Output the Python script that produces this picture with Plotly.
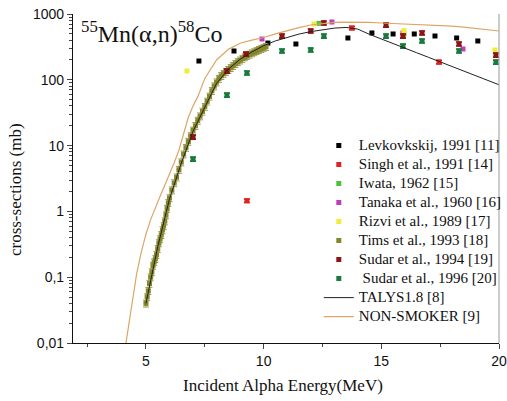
import plotly.graph_objects as go

# ---------------- data ----------------
lev_e = [7.25, 8.74, 10.18, 11.37, 13.58, 14.6, 15.5, 16.4, 17.28, 18.2, 19.1]
lev_s = [193, 274, 362, 350, 432, 515, 497, 497, 463, 432, 389]

singh_e = [9.29, 13.75, 17.45]
singh_s = [1.45, 612, 186]

iwata_e = [12.35, 15.96]
iwata_s = [720, 500]

tanaka_e = [9.93, 12.9, 15.92, 18.47]
tanaka_s = [417, 756, 515, 294]

rizvi_e = [6.74, 12.14, 15.96, 19.83]
rizvi_s = [136, 705, 560, 284]

tims_e = [5.00, 5.05, 5.10, 5.15, 5.20, 5.25, 5.30, 5.35, 5.40, 5.45, 5.50, 5.55,
          5.60, 5.65, 5.70, 5.75, 5.80, 5.85, 5.90, 5.95, 6.00, 6.10, 6.20, 6.30,
          6.40, 6.50, 6.60, 6.70, 6.80, 6.90, 7.00, 7.10, 7.20, 7.30, 7.40, 7.50,
          7.60, 7.70, 7.80, 7.90, 8.00, 8.10, 8.20, 8.30, 8.40, 8.50, 8.60, 8.70,
          8.80, 8.90, 9.00, 9.10, 9.20, 9.30, 9.40, 9.50, 9.60, 9.70, 9.80, 9.90,
          10.00, 10.10]
tims_s = [0.040, 0.050, 0.062, 0.080, 0.10, 0.12, 0.15, 0.17, 0.19, 0.22, 0.27, 0.33,
          0.38, 0.44, 0.52, 0.60, 0.71, 0.88, 1.1, 1.35, 1.6, 2.1, 2.7, 3.3,
          4.3, 5.6, 7.4, 9.3, 11.5, 14, 17, 20, 24, 28, 33, 39,
          47, 56, 68, 80, 92, 104, 115, 124, 133, 142, 152, 163,
          175, 187, 198, 210, 222, 232, 243, 254, 264, 275, 286, 297,
          308, 318]

sud94_e = [7.0, 8.44, 9.25, 10.78, 12.0, 12.56, 15.2, 15.92, 16.73, 18.3, 19.87]
sud94_s = [13.5, 136, 246, 463, 552, 730, 680, 463, 515, 350, 238]

sud96_e = [7.0, 8.44, 9.29, 10.78, 12.0, 12.56, 15.2, 15.92, 16.73, 18.3, 19.87]
sud96_s = [6.25, 58.7, 127, 274, 284, 463, 463, 326, 389, 274, 186]

talys_e = [5.0, 5.5, 6.0, 6.5, 7.0, 7.5, 8.0, 8.5, 9.0, 9.5, 10.0, 10.5, 11.0,
           11.5, 12.0, 12.5, 13.0, 13.5, 14.0, 14.5, 15.0, 15.5, 16.0, 16.5, 17.0,
           17.5, 18.0, 18.5, 19.0, 19.5, 20.0]
talys_s = [0.04, 0.29, 1.55, 5.4, 16.5, 38, 88, 145, 205, 265, 330, 390, 445,
           495, 540, 580, 610, 625, 590, 490, 415, 355, 302, 258, 220,
           188, 160, 137, 116, 99, 84]

ns_e = [4.0, 4.2, 4.4, 4.6, 4.8, 5.0, 5.2, 5.4, 5.6, 5.8, 6.0, 6.2, 6.4, 6.6, 6.8,
        7.0, 7.2, 7.5, 8.0, 8.5, 9.0, 9.5, 10.0, 10.5, 11.0, 11.5, 12.0, 12.5,
        13.0, 13.5, 14.0, 14.5, 15.0, 15.5, 16.0, 16.5, 17.0, 17.5, 18.0, 18.5,
        19.0, 19.5, 20.0]
ns_s = [0.0045, 0.0135, 0.04, 0.11, 0.24, 0.45, 0.75, 1.15, 1.7, 2.5, 3.6, 5.5,
        8.5, 15, 27, 40, 55, 105, 200, 290, 360, 400, 440, 500, 560, 620, 680,
        720, 745, 755, 755, 745, 730, 720, 710, 700, 690, 670, 655, 630, 605,
        580, 552]

y_tickvals = [0.01, 0.1, 1, 10, 100, 1000]
y_ticktext = ["0,01", "0,1", "1", "10", "100", "1000"]
x_tickvals = [5, 10, 15, 20]


def lg(name):
    # legend label at 15px while the row spacing follows the smaller legend font
    return '<span style="font-size:15px">' + name + '</span>'


# ---------------- figure ----------------
fig = go.Figure()


def pts(x, y, name, color, err=None, size=5):
    kw = {}
    if err is not None:
        kw["error_y"] = dict(type="percent", value=err, color=color,
                             thickness=1.6, width=3)
    fig.add_trace(go.Scatter(x=x, y=y, mode="markers", name=lg(name),
                             marker=dict(symbol="square", size=size, color=color),
                             **kw))


pts(lev_e, lev_s, "Levkovkskij, 1991 [11]", "#000000")
pts(singh_e, singh_s, "Singh et al., 1991 [14]", "#e02222", err=6)
pts(iwata_e, iwata_s, "Iwata, 1962 [15]", "#4cc23c")
pts(tanaka_e, tanaka_s, "Tanaka et al., 1960 [16]", "#c23cc2")
pts(rizvi_e, rizvi_s, "Rizvi et al., 1989 [17]", "#eeee3a")

fig.add_trace(go.Scatter(
    x=tims_e, y=tims_s, mode="markers", name=lg("Tims et al., 1993 [18]"),
    marker=dict(symbol="square", size=5, color="#85852a"),
    error_y=dict(type="percent", value=12, color="#9a9a50", thickness=1, width=3),
    error_x=dict(type="constant", value=0.1, color="#9a9a50", thickness=0.8, width=0),
))

pts(sud94_e, sud94_s, "Sudar et al., 1994 [19]", "#8c1414", err=7)
pts(sud96_e, sud96_s, " Sudar et al., 1996 [20]", "#1a7a3c", err=7)

fig.add_trace(go.Scatter(x=talys_e, y=talys_s, mode="lines", name=lg("TALYS1.8 [8]"),
                         line=dict(color="#222222", width=1)))
fig.add_trace(go.Scatter(x=ns_e, y=ns_s, mode="lines", name=lg("NON-SMOKER [9]"),
                         line=dict(color="#dca666", width=1.2)))

fig.update_layout(
    width=507, height=401,
    margin=dict(l=73, r=8, t=14, b=58, autoexpand=False),
    paper_bgcolor="white", plot_bgcolor="white",
    showlegend=True,
    legend=dict(x=0.577, y=0.644, xanchor="left", yanchor="top",
                bgcolor="rgba(0,0,0,0)",
                font=dict(family="Liberation Serif", size=12.2, color="#111111"),
                tracegroupgap=0),
    font=dict(family="Liberation Sans", size=14, color="#111111"),
)

fig.update_xaxes(range=[1.9, 20], tickvals=x_tickvals, ticks="outside", ticklen=5,
                 tickwidth=1, showline=True, linecolor="#111111", linewidth=1.2,
                 showgrid=False, zeroline=False,
                 tickfont=dict(family="Liberation Sans", size=14),
                 minor=dict(tickvals=[2.5, 7.5, 12.5, 17.5], ticks="outside",
                            ticklen=3, showgrid=False))
fig.update_yaxes(type="log", range=[-2, 3], tickvals=y_tickvals, ticktext=y_ticktext,
                 ticks="outside", ticklen=5, tickwidth=1, showline=True,
                 linecolor="#111111", linewidth=1.2, showgrid=False, zeroline=False,
                 tickfont=dict(family="Liberation Sans", size=14),
                 minor=dict(dtick="D1", ticks="outside", ticklen=3, showgrid=False))

# right frame line
fig.add_shape(type="line", xref="paper", yref="paper", x0=1, x1=1, y0=0, y1=1,
              line=dict(color="#aaaaaa", width=1.2))

# title and axis titles
fig.add_annotation(text="<sup>55</sup>Mn(α,n)<sup>58</sup>Co", xref="paper", yref="paper",
                   x=0.014, y=0.945, xanchor="left", yanchor="middle", showarrow=False,
                   font=dict(family="Liberation Serif", size=24, color="#111111"))
fig.add_annotation(text="Incident Alpha Energy(MeV)", xref="paper", yref="paper",
                   x=0.493, y=-0.128, xanchor="center", yanchor="middle", showarrow=False,
                   font=dict(family="Liberation Serif", size=17, color="#111111"))
fig.add_annotation(text="cross-sections (mb)", xref="paper", yref="paper",
                   x=-0.136, y=0.465, xanchor="center", yanchor="middle", textangle=-90,
                   showarrow=False,
                   font=dict(family="Liberation Serif", size=17, color="#111111"))

fig.write_html("out.html")
